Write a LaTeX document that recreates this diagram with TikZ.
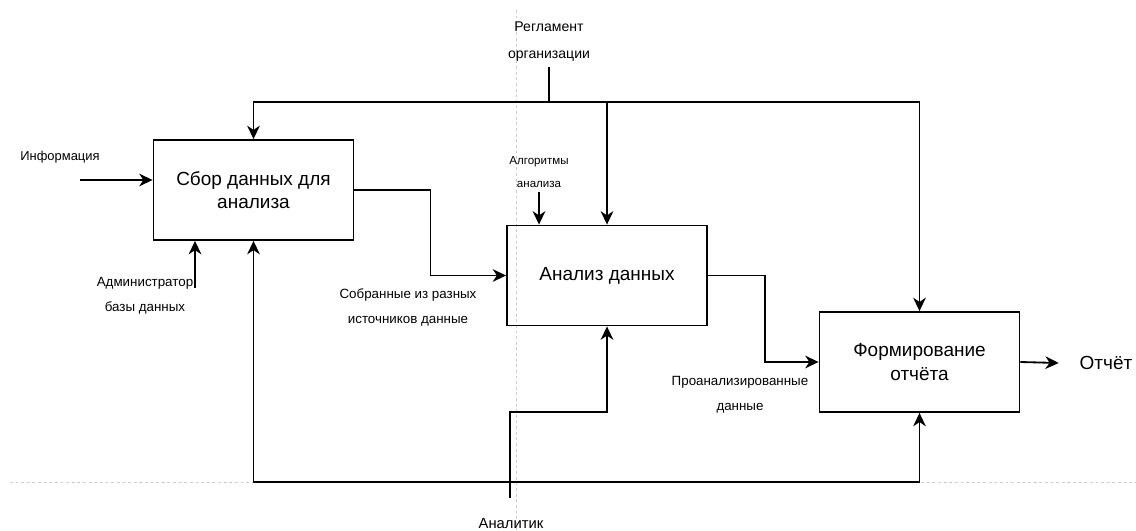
\documentclass[tikz,border=0pt]{standalone}
\usepackage{fontspec}
\setmainfont{Liberation Sans}
\usetikzlibrary{arrows.meta}
\tikzset{
  proc/.style={draw, line width=1.3pt, minimum width=5cm, minimum height=2.5cm, align=center, font=\fontsize{13.5}{16.5}\selectfont},
  lbl/.style={align=center, font=\fontsize{9.5}{17.8}\selectfont},
  small/.style={align=center, font=\fontsize{8.2}{16.4}\selectfont},
  flow/.style={-{Stealth[length=9.5pt,width=9pt,inset=3pt]}, line width=1.3pt},
  wire/.style={line width=1.3pt},
  guide/.style={draw=black!20, line width=0.5pt, dash pattern=on 2pt off 2pt}
}
\begin{document}
\begin{tikzpicture}[x=0.025cm, y=-0.025cm]
    \useasboundingbox (0,0) rectangle (1136,531);
    \draw[guide] (516,10) -- (516,531);
    \draw[guide] (10,482) -- (1136,482);

    \node[proc] (sbor) at (253.5,190) {Сбор данных для\\анализа};
    \node[proc] (analiz) at (607,275.5) {Анализ данных};
    \node[proc] (form) at (919.5,362) {Формирование\\отчёта};

    \node[lbl, font=\fontsize{10}{19.2}\selectfont] (regl) at (549,42) {Регламент\\организации};
    \node[lbl, font=\fontsize{9.2}{14}\selectfont] (info) at (60,157) {Информация};
    \node[lbl] (admin) at (145,296) {Администратор\\базы данных};
    \node[lbl] (sobr) at (408,307) {Собранные из разных\\источников данные};
    \node[small] (algo) at (539,172) {Алгоритмы\\анализа};
    \node[lbl] (proan) at (740,395) {Проанализированные\\данные};
    \node[lbl, font=\fontsize{10.5}{14}\selectfont] (anal) at (511,523) {Аналитик};
    \node[font=\fontsize{13.5}{16}\selectfont] (otch) at (1106,363) {Отчёт};

    \coordinate (regj) at (549,102);
    \coordinate (infin) at (80,180);
    \coordinate (adm) at (195,288);
    \coordinate (algin) at (539,192);
    \coordinate (anl) at (510,498);
    \coordinate (busj) at (510,482);

    \draw[wire] (regl.south) -- (regj);
    \draw[flow] (regj) -| (sbor.north);
    \draw[flow] (regj) -| (form.north);
    \draw[flow] (regj -| analiz.north) -- (analiz.north);
    \draw[flow] (infin) -- (infin -| sbor.west);
    \draw[flow] (sbor.east) -- ++(76,0) |- (analiz.west);
    \draw[flow] (analiz.east) -- ++(57,0) |- (form.west);
    \draw[flow] (form.east) -- ([xshift=-0.4cm]otch.west);
    \draw[flow] (adm) -- (adm |- sbor.south);
    \draw[flow] (algin) -- (algin |- analiz.north);
    \draw[wire] (anl) -- (busj);
    \draw[flow] (busj) -| (sbor.south);
    \draw[flow] (busj) -| (form.south);
    \draw[flow] (anl) -- ++(0,-86) -| (analiz.south);
\end{tikzpicture}
\end{document}
